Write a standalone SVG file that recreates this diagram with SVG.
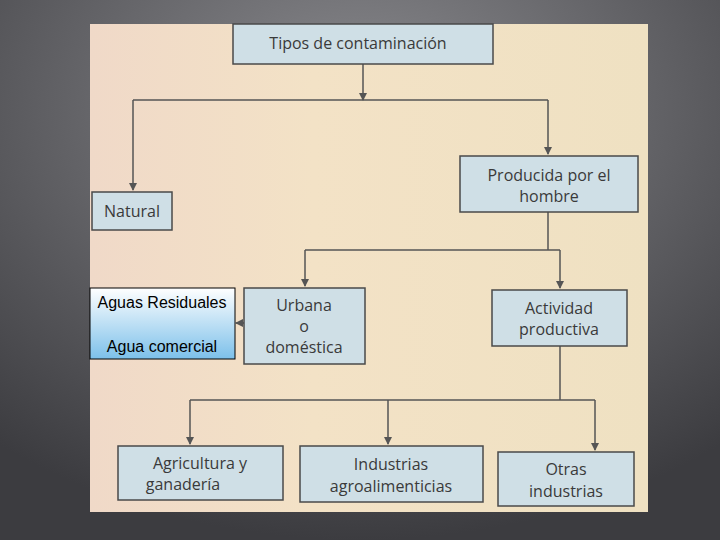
<svg xmlns="http://www.w3.org/2000/svg" width="720" height="540" viewBox="0 0 720 540">
<defs>
<radialGradient id="bg" cx="0.5" cy="0.2" r="0.8"><stop offset="0" stop-color="#8a8a8e"/><stop offset="1" stop-color="#3c3c40"/></radialGradient>
<linearGradient id="page" x1="0" y1="0" x2="1" y2="0"><stop offset="0" stop-color="#f0d9c8"/><stop offset="0.4" stop-color="#f3e2c6"/><stop offset="1" stop-color="#efe1c2"/></linearGradient>
<linearGradient id="aw" x1="0" y1="0" x2="0" y2="1"><stop offset="0" stop-color="#ffffff"/><stop offset="1" stop-color="#7cc0ea"/></linearGradient>
<marker id="ah" markerWidth="8" markerHeight="8" refX="7" refY="4" orient="auto" markerUnits="userSpaceOnUse"><path d="M0,0 L8,4 L0,8 Z" fill="#555"/></marker>
<style>
.box{fill:#cfdfe6;stroke:#4a4a4a;stroke-width:1.5}
.t{font-family:"Open Sans","DejaVu Sans",sans-serif;font-size:16px;fill:#3a3a3a;text-anchor:middle}
.c{fill:none;stroke:#555;stroke-width:1.5}
.a{font-family:"Liberation Sans",Arial,sans-serif;font-size:16px;fill:#000;text-anchor:middle}
</style>
</defs>
<rect width="720" height="540" fill="url(#bg)"/>
<rect x="90" y="24" width="558" height="488" fill="url(#page)"/>
<g id="connectors">
<path class="c" d="M133,100 H548"/>
<path class="c" d="M363,64 V100" marker-end="url(#ah)"/>
<path class="c" d="M133,100 V190" marker-end="url(#ah)"/>
<path class="c" d="M548,100 V154" marker-end="url(#ah)"/>
<path class="c" d="M548,212 V250 M305,250 H560"/>
<path class="c" d="M305,250 V286" marker-end="url(#ah)"/>
<path class="c" d="M560,250 V288" marker-end="url(#ah)"/>
<path class="c" d="M560,346 V400 M190,400 H595"/>
<path class="c" d="M190,400 V444" marker-end="url(#ah)"/>
<path class="c" d="M388,400 V444" marker-end="url(#ah)"/>
<path class="c" d="M595,400 V450" marker-end="url(#ah)"/>
<path class="c" d="M246,323 H236" marker-end="url(#ah)" stroke="#000"/>
</g>
<g id="tipos"><rect class="box" x="233" y="24" width="260" height="40"/><text class="t" x="358" y="49" font-size="17">Tipos de contaminación</text></g>
<g id="natural"><rect class="box" x="92" y="192" width="80" height="38"/><text class="t" x="132" y="217">Natural</text></g>
<g id="producida"><rect class="box" x="460" y="156" width="178" height="56"/><text class="t" x="549" y="181">Producida por el</text><text class="t" x="549" y="202">hombre</text></g>
<g id="aguas"><rect x="90" y="288" width="145" height="71" fill="url(#aw)" stroke="#000" stroke-width="1"/><text class="a" x="162" y="308">Aguas Residuales</text><text class="a" x="162" y="352">Agua comercial</text></g>
<g id="urbana"><rect class="box" x="244" y="288" width="121" height="76"/><text class="t" x="304" y="311">Urbana</text><text class="t" x="304" y="332">o</text><text class="t" x="304" y="353">doméstica</text></g>
<g id="actividad"><rect class="box" x="492" y="290" width="135" height="56"/><text class="t" x="559" y="314">Actividad</text><text class="t" x="559" y="335">productiva</text></g>
<g id="agricultura"><rect class="box" x="118" y="446" width="165" height="54"/><text class="t" x="200" y="469">Agricultura y</text><text class="t" x="183" y="490">ganadería</text></g>
<g id="industrias"><rect class="box" x="300" y="446" width="183" height="56"/><text class="t" x="391" y="470">Industrias</text><text class="t" x="391" y="492">agroalimenticias</text></g>
<g id="otras"><rect class="box" x="498" y="452" width="136" height="54"/><text class="t" x="566" y="475">Otras</text><text class="t" x="566" y="497">industrias</text></g>
</svg>
